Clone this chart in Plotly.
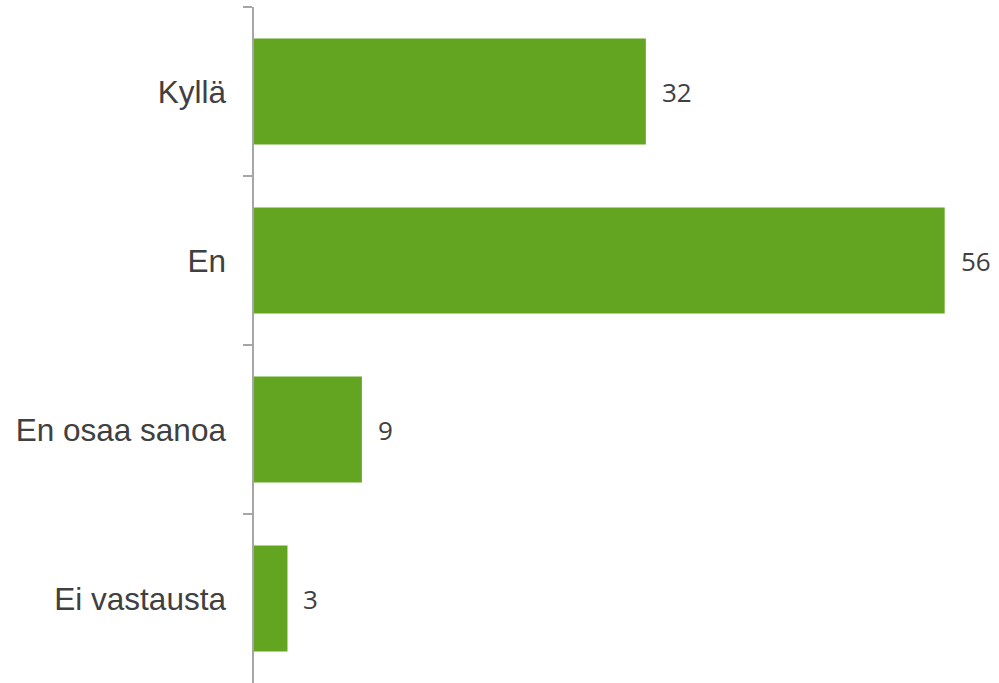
import plotly.graph_objects as go

categories = ["Kyllä", "En", "En osaa sanoa", "Ei vastausta"]
values = [31.6, 55.7, 8.7, 2.7]
labels = [f"{v:.0f}" for v in values]

fig = go.Figure()
fig.add_trace(go.Bar(
    x=values, y=categories, orientation="h",
    marker=dict(color="#63A521", line=dict(width=0)),
    hoverinfo="skip",
))

for cat, v, t in zip(categories, values, labels):
    fig.add_annotation(
        x=v, y=cat, xref="x", yref="y", text=t, showarrow=False,
        xanchor="left", yanchor="middle", xshift=14,
        font=dict(family="Open Sans", size=26, color="#404040"),
    )

fig.update_layout(
    width=999, height=683,
    margin=dict(l=254, r=0, t=7, b=0),
    paper_bgcolor="white", plot_bgcolor="white",
    bargap=0.373, showlegend=False,
)
fig.update_xaxes(visible=False, range=[0, 745 / 12.4], fixedrange=True)
fig.update_yaxes(
    type="category", categoryorder="array", categoryarray=categories,
    autorange="reversed",
    showline=True, linecolor="#A6A6A6", linewidth=1.5,
    ticks="outside", tickson="boundaries", ticklen=9, tickcolor="#A6A6A6", tickwidth=1.5,
    showgrid=False, zeroline=False,
    tickfont=dict(family="Liberation Sans, Arial", size=31.5, color="#404040"),
    ticklabelstandoff=20,
)

fig.write_html(
    "out.html",
    config={"displayModeBar": False},
    post_script="document.body.style.margin='0';document.body.style.overflow='hidden';",
)
